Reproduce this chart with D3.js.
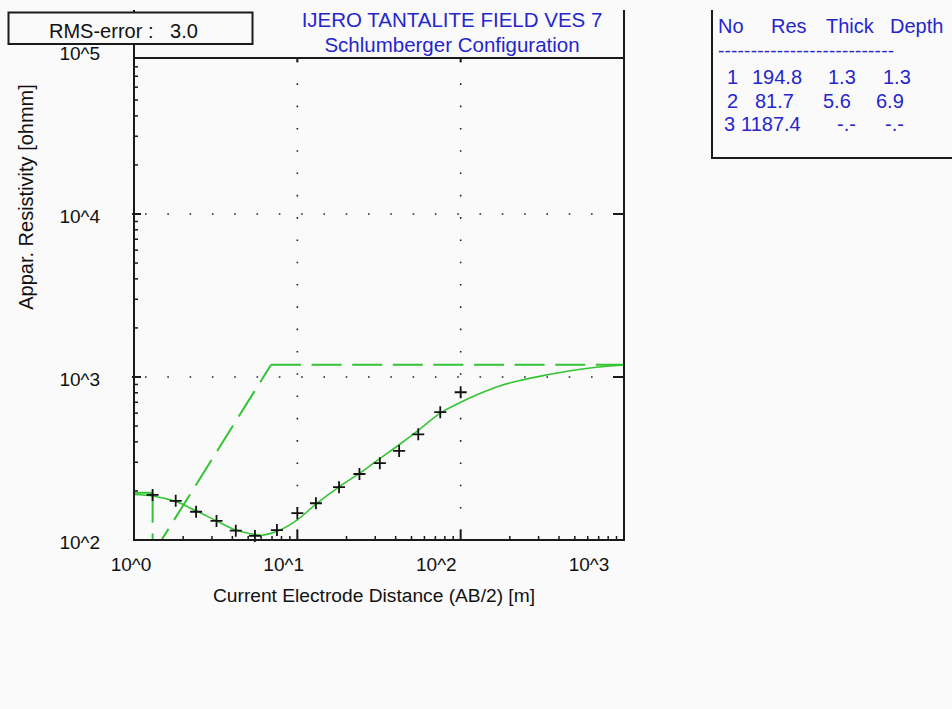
<!DOCTYPE html>
<html>
<head>
<meta charset="utf-8">
<script src="https://cdn.jsdelivr.net/npm/d3@7"></script>
<style>
body { margin: 0; background: #fafafa; }
svg { display: block; font-family: "Liberation Sans", Arial, sans-serif; }
</style>
</head>
<body>
<div id="chart"></div>
<script>
// Field data: AB/2 [m] and apparent resistivity [ohmm]
var abHalf = [1.3, 1.8, 2.4, 3.2, 4.2, 5.5, 7.5, 10, 13, 18, 24, 32, 42, 55, 75, 100];
var rhoApp = [189, 174, 149, 131, 114, 106, 115, 146, 168, 211, 254, 296, 352, 445, 608, 806];

// Calculated model curve
var modelAb  = [1, 1.3, 1.8, 2.4, 3.2, 4.2, 5, 6, 7.5, 10, 13, 18, 24, 32, 42, 55, 75, 100, 130, 175, 240, 320, 450, 620, 1000];
var modelRho = [190, 186, 172, 151, 131, 115, 110, 107, 113, 133, 166, 212, 256, 316, 384, 470, 600, 700, 790, 885, 960, 1020, 1085, 1135, 1185];

// Layer table
var layerNo    = [1, 2, 3];
var layerRes   = [194.8, 81.7, 1187.4];
var layerThick = [1.3, 5.6, null];
var layerDepth = [1.3, 6.9, null];

var xTickValues = [1, 10, 100, 1000];
var xTickLabels = ["10^0", "10^1", "10^2", "10^3"];
var yTickValues = [100, 1000, 10000, 100000];
var yTickLabels = ["10^2", "10^3", "10^4", "10^5"];

var rmsError = 3.0;
var titleLines = ["IJERO TANTALITE FIELD VES 7", "Schlumberger Configuration"];
var xTitle = "Current Electrode Distance (AB/2) [m]";
var yTitle = "Appar. Resistivity [ohmm]";

// Canvas
var W = 952, H = 709;
var plot = {left: 134, right: 624, top: 58, bottom: 540};
var green = "#33c433";
var blue = "#2626cc";
var ink = "#1a1a1a";

var svg = d3.select("#chart").append("svg")
  .attr("width", W)
  .attr("height", H);

svg.append("rect").attr("width", W).attr("height", H).attr("fill", "#fafafa");

// Scales
var x = d3.scaleLog().domain([1, 1000]).range([plot.left, plot.right]);
var y = d3.scaleLog().domain([100, 100000]).range([plot.bottom, 51]);
// the program puts the x labels a bit to the left of the ticks
var xLab = d3.scaleLog().domain([1, 1000]).range([131, 589]);

svg.append("clipPath").attr("id", "clip")
  .append("rect")
  .attr("x", plot.left).attr("y", plot.top)
  .attr("width", plot.right - plot.left)
  .attr("height", plot.bottom - plot.top);

// Dotted grid at decades
svg.selectAll(".gridx")
  .data([10, 100])
  .enter()
  .append("line")
  .attr("x1", function(d) { return x(d); })
  .attr("x2", function(d) { return x(d); })
  .attr("y1", plot.top)
  .attr("y2", plot.bottom)
  .attr("stroke", "#222")
  .attr("stroke-width", 1.6)
  .attr("stroke-dasharray", "1.6,20.7")
  .attr("stroke-dashoffset", -3);

svg.selectAll(".gridy")
  .data([1000, 10000])
  .enter()
  .append("line")
  .attr("x1", plot.left)
  .attr("x2", plot.right)
  .attr("y1", function(d) { return y(d); })
  .attr("y2", function(d) { return y(d); })
  .attr("stroke", "#222")
  .attr("stroke-width", 1.6)
  .attr("stroke-dasharray", "1.6,20.7")
  .attr("stroke-dashoffset", -11);

var inner = svg.append("g").attr("clip-path", "url(#clip)");

// Layer model (dashed); each segment starts its own dash pattern
var stepPts = [
  [1, layerRes[0]],
  [layerDepth[0], layerRes[0]],
  [layerDepth[0], layerRes[1]],
  [layerDepth[1], layerRes[2]],
  [1000, layerRes[2]]
];
var segs = d3.pairs(stepPts);
inner.selectAll(".step")
  .data(segs)
  .enter()
  .append("line")
  .attr("x1", function(d) { return x(d[0][0]); })
  .attr("y1", function(d) { return y(d[0][1]); })
  .attr("x2", function(d) { return x(d[1][0]); })
  .attr("y2", function(d) { return y(d[1][1]); })
  .attr("stroke", green)
  .attr("stroke-width", 2)
  .attr("stroke-dasharray", "30,10.6");

// Model curve (solid)
var line = d3.line()
  .x(function(d, i) { return x(modelAb[i]); })
  .y(function(d) { return y(d); })
  .curve(d3.curveMonotoneX);

inner.append("path")
  .attr("d", line(modelRho))
  .attr("fill", "none")
  .attr("stroke", green)
  .attr("stroke-width", 1.6);

// Measured points (+)
svg.selectAll(".pt")
  .data(rhoApp)
  .enter()
  .append("path")
  .attr("transform", function(d, i) { return "translate(" + x(abHalf[i]) + "," + y(d) + ")"; })
  .attr("d", "M-6,0H6M0,-6V6")
  .attr("stroke", "#111")
  .attr("stroke-width", 1.8)
  .attr("fill", "none");

// Frame
function hline(x1, x2, yy) {
  svg.append("line").attr("x1", x1).attr("x2", x2).attr("y1", yy).attr("y2", yy)
    .attr("stroke", ink).attr("stroke-width", 2);
}
function vline(xx, y1, y2) {
  svg.append("line").attr("x1", xx).attr("x2", xx).attr("y1", y1).attr("y2", y2)
    .attr("stroke", ink).attr("stroke-width", 2);
}
vline(plot.left, 10, plot.bottom + 1);
vline(plot.right, 10, plot.bottom + 1);
hline(plot.left, plot.right, plot.top);
hline(plot.left - 1, plot.right + 1, plot.bottom);

// Minor tick values
var minorX = [], minorY = [];
[1, 10, 100].forEach(function(dec) {
  for (var m = 2; m <= 9; m++) minorX.push(m * dec);
});
[100, 1000, 10000].forEach(function(dec) {
  for (var m = 2; m <= 9; m++) {
    if (y(m * dec) > plot.top + 2) minorY.push(m * dec);
  }
});

// Bottom ticks
svg.selectAll(".tbm")
  .data(minorX)
  .enter()
  .append("line")
  .attr("x1", function(d) { return x(d); })
  .attr("x2", function(d) { return x(d); })
  .attr("y1", plot.bottom)
  .attr("y2", plot.bottom - 4)
  .attr("stroke", ink)
  .attr("stroke-width", 1.5);
svg.selectAll(".tbM")
  .data([10, 100])
  .enter()
  .append("line")
  .attr("x1", function(d) { return x(d); })
  .attr("x2", function(d) { return x(d); })
  .attr("y1", plot.bottom)
  .attr("y2", plot.bottom - 10)
  .attr("stroke", ink)
  .attr("stroke-width", 2);
// Top ticks
svg.selectAll(".ttM")
  .data([10, 100])
  .enter()
  .append("line")
  .attr("x1", function(d) { return x(d); })
  .attr("x2", function(d) { return x(d); })
  .attr("y1", plot.top)
  .attr("y2", plot.top + 4)
  .attr("stroke", ink)
  .attr("stroke-width", 2);

// Left ticks
svg.selectAll(".tlm")
  .data(minorY)
  .enter()
  .append("line")
  .attr("x1", plot.left)
  .attr("x2", plot.left + 4)
  .attr("y1", function(d) { return y(d); })
  .attr("y2", function(d) { return y(d); })
  .attr("stroke", ink)
  .attr("stroke-width", 1.5);
svg.selectAll(".tlM")
  .data([1000, 10000])
  .enter()
  .append("line")
  .attr("x1", plot.left - 2)
  .attr("x2", plot.left + 7)
  .attr("y1", function(d) { return y(d); })
  .attr("y2", function(d) { return y(d); })
  .attr("stroke", ink)
  .attr("stroke-width", 2);
// Right ticks
svg.selectAll(".trM")
  .data([1000, 10000])
  .enter()
  .append("line")
  .attr("x1", plot.right)
  .attr("x2", plot.right - 11)
  .attr("y1", function(d) { return y(d); })
  .attr("y2", function(d) { return y(d); })
  .attr("stroke", ink)
  .attr("stroke-width", 2);

// Tick labels
svg.selectAll(".xl")
  .data(xTickValues)
  .enter()
  .append("text")
  .attr("x", function(d) { return xLab(d); })
  .attr("y", 571)
  .attr("text-anchor", "middle")
  .attr("font-size", "19px")
  .attr("fill", "#111")
  .text(function(d, i) { return xTickLabels[i]; });

svg.selectAll(".yl")
  .data(yTickValues)
  .enter()
  .append("text")
  .attr("x", 100)
  .attr("y", function(d) { return y(d) + 8.5; })
  .attr("text-anchor", "end")
  .attr("font-size", "19px")
  .attr("fill", "#111")
  .text(function(d, i) { return yTickLabels[i]; });

// Axis titles
svg.append("text")
  .attr("x", 374)
  .attr("y", 602)
  .attr("text-anchor", "middle")
  .attr("font-size", "19.2px")
  .attr("fill", "#111")
  .text(xTitle);

svg.append("text")
  .attr("transform", "translate(33,197) rotate(-90)")
  .attr("text-anchor", "middle")
  .attr("font-size", "20px")
  .attr("fill", "#111")
  .text(yTitle);

// RMS box
svg.append("rect")
  .attr("x", 8.5).attr("y", 12.5)
  .attr("width", 244).attr("height", 31.5)
  .attr("fill", "#fafafa")
  .attr("stroke", ink)
  .attr("stroke-width", 2);
svg.append("text")
  .attr("x", 49)
  .attr("y", 38)
  .attr("font-size", "20px")
  .attr("fill", "#111")
  .attr("xml:space", "preserve")
  .style("white-space", "pre")
  .text("RMS-error :   " + rmsError.toFixed(1));

// Title
svg.selectAll(".title")
  .data(titleLines)
  .enter()
  .append("text")
  .attr("x", 452)
  .attr("y", function(d, i) { return 27 + i * 25; })
  .attr("text-anchor", "middle")
  .attr("font-size", "20.5px")
  .attr("fill", blue)
  .text(function(d) { return d; });

// Layer table
vline(712, 10, 158);
hline(711, W, 158);

var headX = [718, 771, 826, 890];
svg.selectAll(".th")
  .data(["No", "Res", "Thick", "Depth"])
  .enter()
  .append("text")
  .attr("x", function(d, i) { return headX[i]; })
  .attr("y", 33)
  .attr("font-size", "20px")
  .attr("fill", blue)
  .text(function(d) { return d; });

svg.append("text")
  .attr("x", 718)
  .attr("y", 57)
  .attr("font-size", "19px")
  .attr("fill", blue)
  .attr("textLength", 176)
  .text("---------------------------");

var cellX = [[727, 752, 828, 883], [727, 755, 823, 876], [724, 741, 837, 885]];
function fmt(v) { return v === null ? "-.-" : v.toFixed(1); }
var rows = svg.selectAll(".row")
  .data(layerNo)
  .enter()
  .append("g");
rows.each(function(n, i) {
  var cells = [String(n), fmt(layerRes[i]), fmt(layerThick[i]), fmt(layerDepth[i])];
  d3.select(this).selectAll("text")
    .data(cells)
    .enter()
    .append("text")
    .attr("x", function(d, j) { return cellX[i][j]; })
    .attr("y", 84 + i * 23.5)
    .attr("font-size", "20px")
    .attr("fill", blue)
    .text(function(d) { return d; });
});
</script>
</body>
</html>
